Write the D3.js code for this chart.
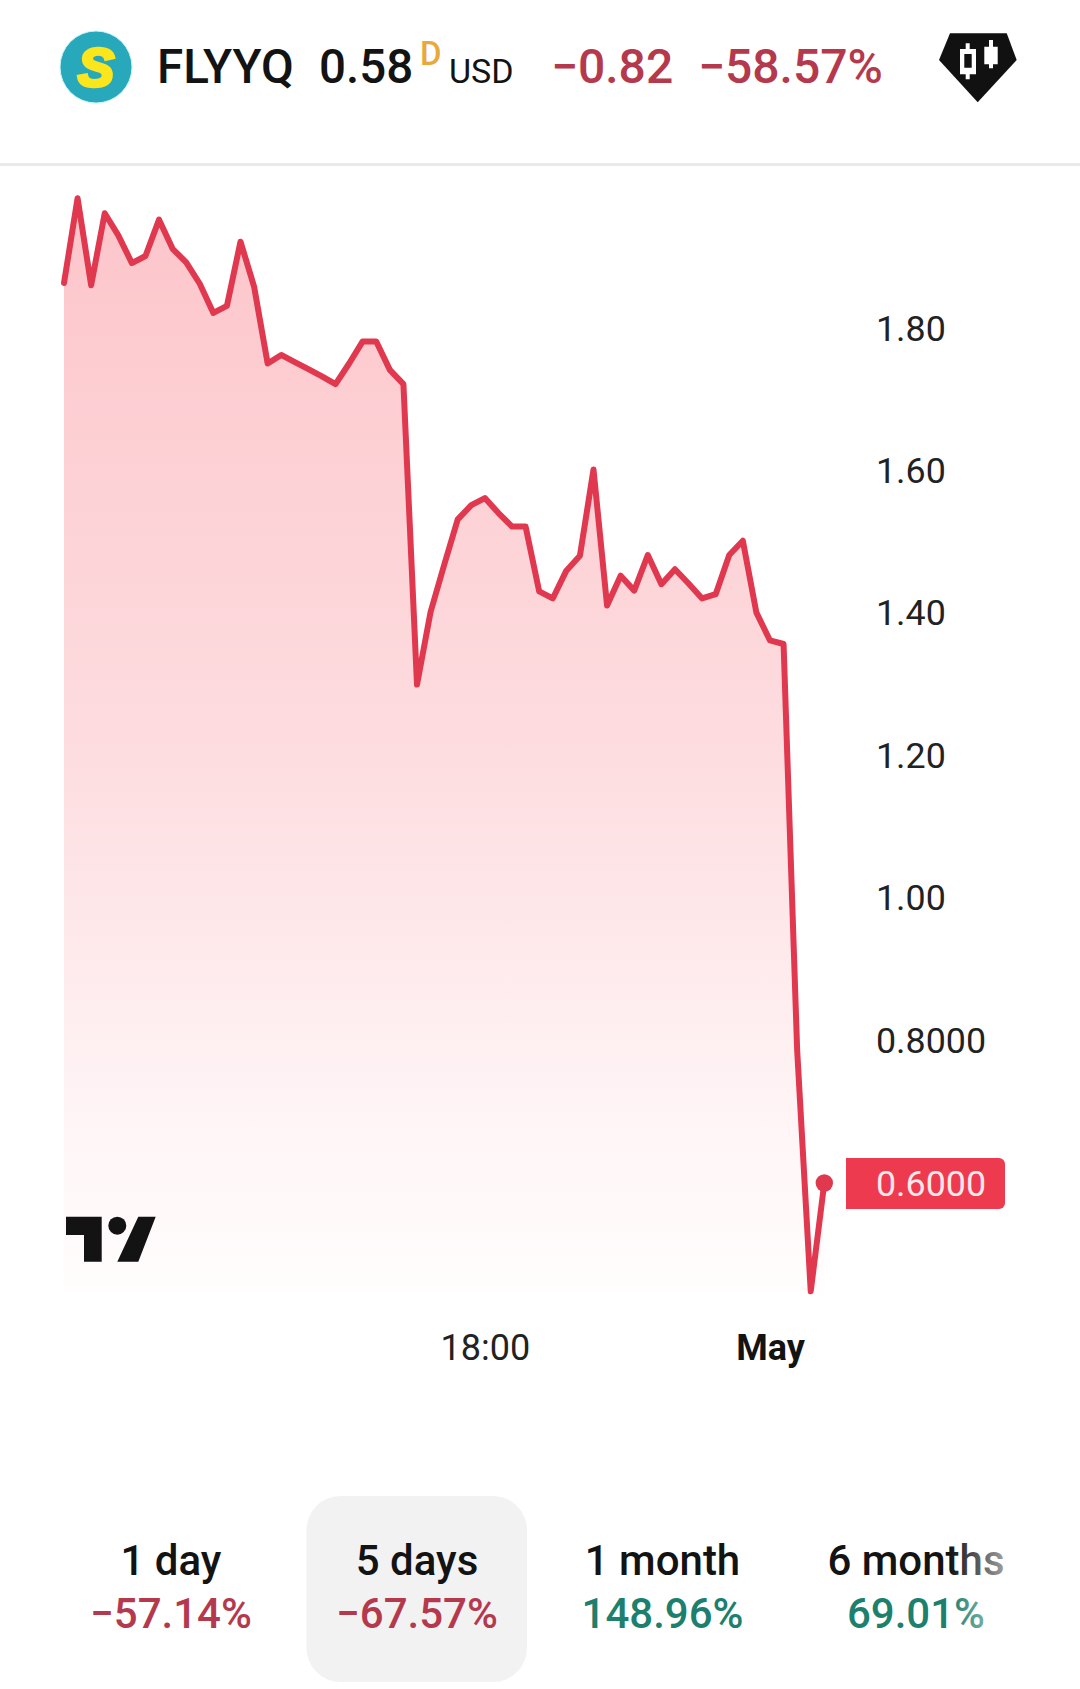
<!DOCTYPE html>
<html>
<head>
 <title>FLYYQ</title>
 <script src="https://d3js.org/d3.v7.min.js"></script>
 <style>
   html, body { margin: 0; background: #fff; }
   svg { display: block; }
   text { font-family: Roboto, sans-serif; }
 </style>
</head>
<body>
 <div id="chart"></div>
 <script>
   // Price per bar
   const prices = [
     1.864, 1.983, 1.861, 1.962, 1.931, 1.892, 1.902, 1.953, 1.912, 1.893,
     1.863, 1.822, 1.832, 1.922, 1.859, 1.751, 1.763, 1.753, 1.743, 1.733,
     1.722, 1.751, 1.782, 1.782, 1.742, 1.722, 1.300, 1.402, 1.468, 1.532,
     1.552, 1.562, 1.541, 1.522, 1.522, 1.431, 1.421, 1.460, 1.481, 1.602,
     1.411, 1.453, 1.432, 1.482, 1.441, 1.462, 1.442, 1.421, 1.427, 1.482,
     1.502, 1.401, 1.362, 1.357, 0.787, 0.448, 0.600
   ];
   const priceTicks = [1.8, 1.6, 1.4, 1.2, 1.0, 0.8];
   const priceTickLabels = ["1.80", "1.60", "1.40", "1.20", "1.00", "0.8000"];
   const lastLabel = "0.6000";
   const lastLabelValue = 0.6;

   const timeTicks = [31, 52];
   const timeTickLabels = ["18:00", "May"];

   const periods = ["1 day", "5 days", "1 month", "6 months"];
   const periodChanges = ["\u221257.14%", "\u221267.57%", "148.96%", "69.01%"];

   const red = "#b5394d", green = "#1d7f6e", lineRed = "#e0384e";

   const width = 1080, height = 1689;
   const svg = d3.select("#chart").append("svg")
     .attr("width", width)
     .attr("height", height);

   const x = d3.scaleLinear().domain([0, prices.length - 1]).range([64, 824.3]);
   const y = d3.scaleLinear().domain([0.6, 1.8]).range([1183, 328.6]);
   const yBottom = y(d3.min(prices));

   // area gradient
   const grad = svg.append("defs").append("linearGradient")
     .attr("id", "fill")
     .attr("gradientUnits", "userSpaceOnUse")
     .attr("x1", 0).attr("x2", 0)
     .attr("y1", y(d3.max(prices))).attr("y2", yBottom);
   grad.append("stop").attr("offset", 0).attr("stop-color", "#fcc5ca");
   grad.append("stop").attr("offset", 0.5).attr("stop-color", "#fddcdf");
   grad.append("stop").attr("offset", 0.85).attr("stop-color", "#fff5f6");
   grad.append("stop").attr("offset", 1).attr("stop-color", "#fffdfd");

   const fade = svg.select("defs").append("linearGradient").attr("id", "fade");
   fade.append("stop").attr("offset", 0).attr("stop-color", "#fff").attr("stop-opacity", 0);
   fade.append("stop").attr("offset", 1).attr("stop-color", "#fff").attr("stop-opacity", 0.65);

   // area and line
   svg.append("path")
     .attr("d", d3.area().x((d, i) => x(i)).y0(yBottom).y1(d => y(d))(prices))
     .attr("fill", "url(#fill)");
   svg.append("path")
     .attr("d", d3.line().x((d, i) => x(i)).y(d => y(d))(prices))
     .attr("fill", "none")
     .attr("stroke", lineRed)
     .attr("stroke-width", 6)
     .attr("stroke-linejoin", "round")
     .attr("stroke-linecap", "round");
   svg.append("circle")
     .attr("cx", x(prices.length - 1))
     .attr("cy", y(prices[prices.length - 1]))
     .attr("r", 8.7)
     .attr("fill", lineRed);

   // price axis
   const yAxis = svg.append("g")
     .attr("transform", "translate(876,0)")
     .call(d3.axisRight(y).tickValues(priceTicks).tickSize(0).tickPadding(0)
       .tickFormat((d, i) => priceTickLabels[i]));
   yAxis.select(".domain").remove();
   yAxis.selectAll("text")
     .attr("font-size", 35.8)
     .attr("font-family", "Roboto")
     .attr("fill", "#222");

   // last price label
   svg.append("path")
     .attr("d", "M846,1158H999a6,6 0 0 1 6,6V1203a6,6 0 0 1 -6,6H846Z")
     .attr("fill", "#ee3a4e");
   svg.append("text")
     .attr("x", 876).attr("y", y(lastLabelValue) + 12.8)
     .attr("font-size", 35.8)
     .attr("fill", "#fde8ea")
     .text(lastLabel);

   // time axis
   const xAxis = svg.append("g")
     .attr("transform", "translate(0,1330)")
     .call(d3.axisBottom(x).tickValues(timeTicks).tickSize(0).tickPadding(0)
       .tickFormat((d, i) => timeTickLabels[i]));
   xAxis.select(".domain").remove();
   xAxis.selectAll("text")
     .attr("dy", 30)
     .attr("y", 0)
     .attr("font-size", 36)
     .attr("font-family", "Roboto")
     .attr("font-weight", (d, i) => i == 1 ? 700 : 400)
     .attr("fill", (d, i) => i == 1 ? "#131313" : "#222");

   // TradingView mark
   svg.append("path")
     .attr("d", "M66,1216.7H101.7V1261.7H84V1235H66ZM138.3,1216.7H155.7L138.3,1261.7H117.3Z")
     .attr("fill", "#131313");
   svg.append("circle").attr("cx", 117.3).attr("cy", 1225.7).attr("r", 9).attr("fill", "#131313");

   // header
   svg.append("circle").attr("cx", 96).attr("cy", 67).attr("r", 36)
     .attr("fill", "#27a9bb").attr("stroke", "#c8f4f8").attr("stroke-width", 1);
   svg.append("text")
     .attr("x", 96).attr("y", 86).attr("text-anchor", "middle")
     .style("font-family", "Liberation Sans")
     .attr("font-size", 54).attr("font-weight", 700).attr("font-style", "italic")
     .attr("fill", "#fbe61e").attr("stroke", "#fbe61e").attr("stroke-width", 3.5)
     .text("S");

   const headerText = [
     { x: 157, y: 83, size: 47.6, weight: 500, fill: "#131313", text: "FLYYQ" },
     { x: 319, y: 83, size: 47.5, weight: 500, fill: "#131313", text: "0.58" },
     { x: 420, y: 65, size: 33, weight: 500, fill: "#e8a93c", text: "D" },
     { x: 449, y: 83, size: 34, weight: 400, fill: "#131313", text: "USD" },
     { x: 551, y: 83, size: 48, weight: 500, fill: red, text: "\u22120.82" },
     { x: 698, y: 83, size: 48, weight: 500, fill: red, text: "\u221258.57%" }
   ];
   svg.selectAll(".head").data(headerText).enter().append("text")
     .attr("class", "head")
     .attr("x", d => d.x).attr("y", d => d.y)
     .attr("font-size", d => d.size)
     .attr("font-weight", d => d.weight)
     .attr("fill", d => d.fill)
     .text(d => d.text);

   // candle badge
   svg.append("path")
     .attr("d", "M950,33.3H1006.7L1016.7,60L977.7,102.3L939,60Z")
     .attr("fill", "#111");
   svg.append("path")
     .attr("fill", "#fff")
     .attr("fill-rule", "evenodd")
     .attr("d", "M965.7,43.3h4v5.7H976V74.3H969.7v5h-4v-5H960V49H965.7ZM964.3,54V67.7H971.7V54Z" +
       "M989,40h4v6.7h4.7V64.3H993v4h-4v-4H984.3V46.7H989Z");

   svg.append("rect")
     .attr("x", 0).attr("y", 163).attr("width", width).attr("height", 3)
     .attr("fill", "#e9e9e9");

   // period tabs
   const tabCenters = [171, 417, 662.5, 916];
   svg.append("rect")
     .attr("x", 306.5).attr("y", 1496).attr("width", 220.5).attr("height", 186).attr("rx", 34)
     .attr("fill", "#f2f2f3");
   periods.forEach((p, i) => {
     svg.append("text")
       .attr("x", tabCenters[i]).attr("y", 1575).attr("text-anchor", "middle")
       .attr("font-size", 42).attr("fill", "#131313").attr("font-weight", 500)
       .text(p);
     svg.append("text")
       .attr("x", tabCenters[i]).attr("y", 1628).attr("text-anchor", "middle")
       .attr("font-size", 42).attr("font-weight", 500)
       .attr("fill", periodChanges[i][0] == "\u2212" ? red : green)
       .text(periodChanges[i]);
   });
   // right edge of the tab strip fades out
   svg.append("rect")
     .attr("x", 950).attr("y", 1530).attr("width", 60).attr("height", 110)
     .attr("fill", "url(#fade)");
 </script>
</body>
</html>
